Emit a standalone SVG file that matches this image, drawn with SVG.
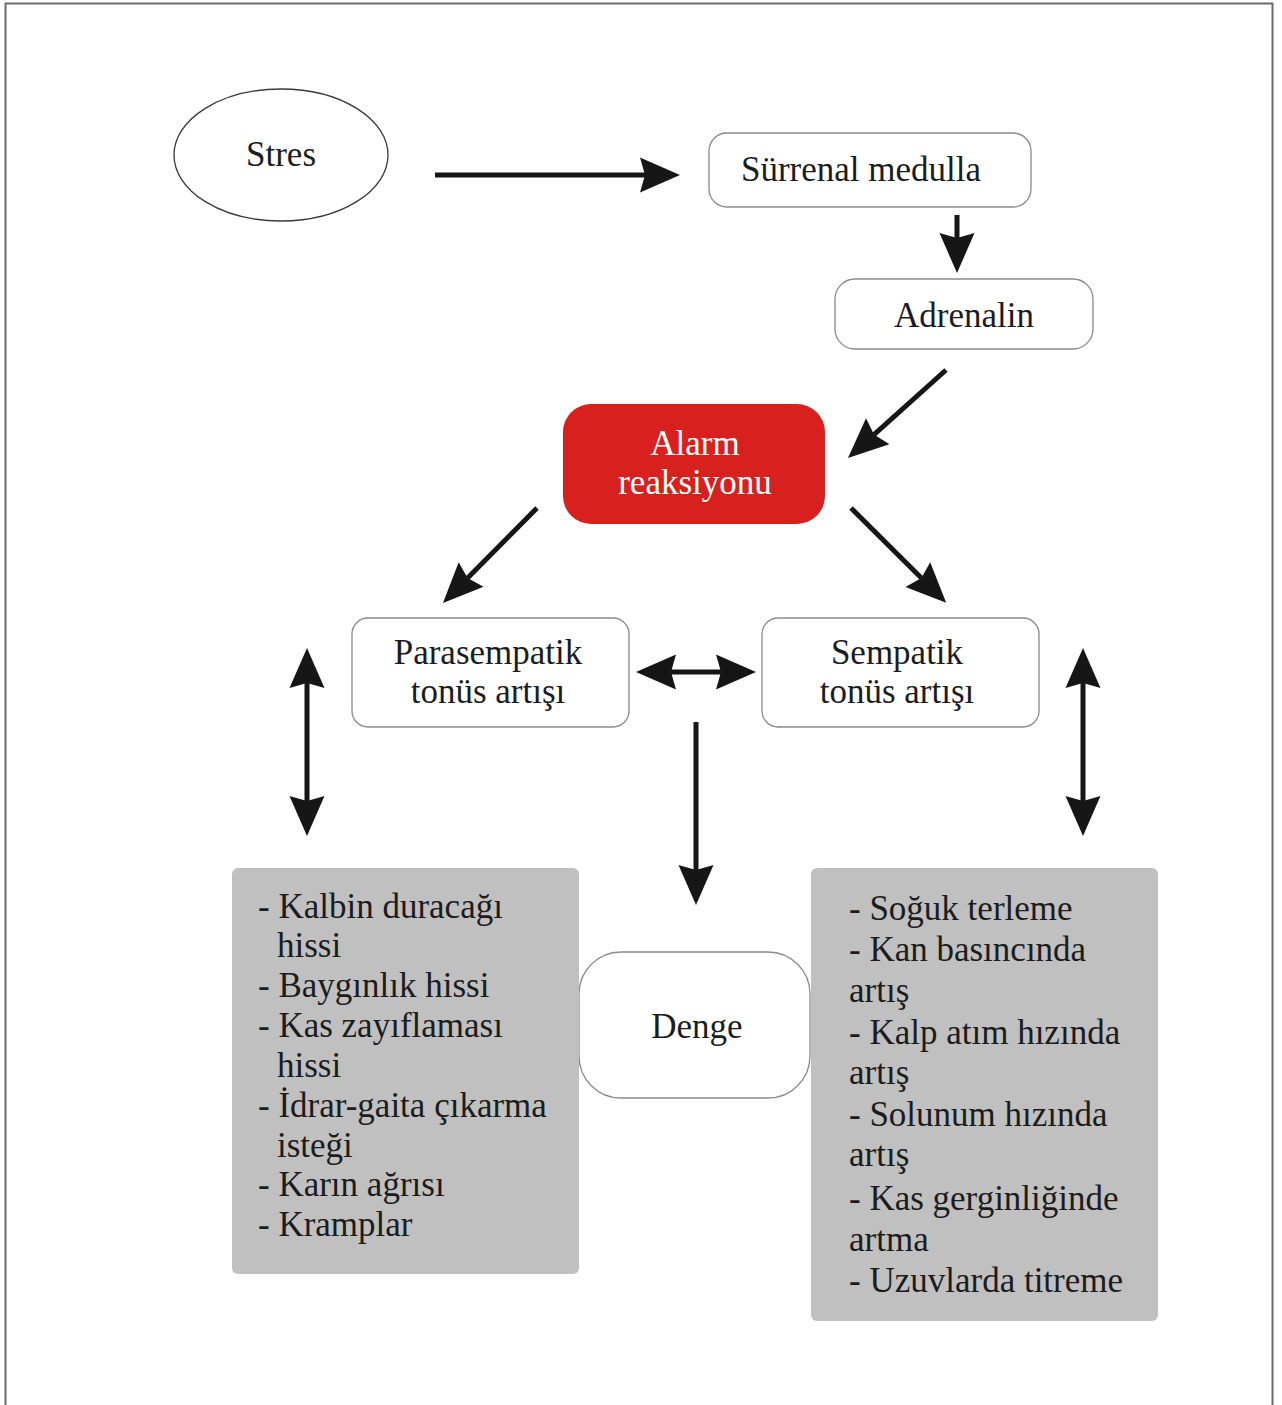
<svg xmlns="http://www.w3.org/2000/svg" width="1282" height="1405" viewBox="0 0 1282 1405">
<style>
.t{font-family:"Liberation Serif","Times New Roman",serif;font-size:35px;fill:#1c1c1c}
.c{text-anchor:middle}
.w{fill:#ffffff}
.box{fill:#ffffff;stroke:#8a8a8a;stroke-width:1.3}
.gray{fill:#c0c0c0}
.con{stroke:#161616;stroke-width:5;fill:none}
</style>
<defs>
<marker id="ah" markerUnits="userSpaceOnUse" viewBox="-6 -19 43 38" markerWidth="43" markerHeight="38" refX="0" refY="0" orient="auto-start-reverse">
<path d="M35,0 L-5,-17.5 L0,0 L-5,17.5 Z" fill="#161616"/>
</marker>
</defs>
<rect x="0" y="0" width="1282" height="1405" fill="#ffffff"/>
<rect x="5.5" y="3.5" width="1267" height="1410" fill="none" stroke="#6a6a6a" stroke-width="2"/>

<g id="connectors">
<line class="con" x1="435" y1="175" x2="645" y2="175" marker-end="url(#ah)"/>
<line class="con" x1="957" y1="215" x2="957" y2="238" marker-end="url(#ah)"/>
<line class="con" x1="946" y1="370" x2="874" y2="434.6" marker-end="url(#ah)"/>
<line class="con" x1="537" y1="508" x2="467.6" y2="578.1" marker-end="url(#ah)"/>
<line class="con" x1="851" y1="508" x2="921.4" y2="578.1" marker-end="url(#ah)"/>
<line class="con" x1="671" y1="672" x2="721" y2="672" marker-start="url(#ah)" marker-end="url(#ah)"/>
<line class="con" x1="307" y1="683" x2="307" y2="801" marker-start="url(#ah)" marker-end="url(#ah)"/>
<line class="con" x1="1083" y1="683" x2="1083" y2="801" marker-start="url(#ah)" marker-end="url(#ah)"/>
<line class="con" x1="696" y1="722" x2="696" y2="870" marker-end="url(#ah)"/>
</g>

<g id="stres">
<ellipse cx="281" cy="155" rx="107" ry="66" fill="#ffffff" stroke="#3a3a3a" stroke-width="1.3"/>
<text class="t c" x="281" y="166">Stres</text>
</g>
<g id="surrenal">
<rect class="box" x="709" y="133" width="322" height="74" rx="18"/>
<text class="t c" x="861" y="181">Sürrenal medulla</text>
</g>
<g id="adrenalin">
<rect class="box" x="835" y="279" width="258" height="70" rx="20"/>
<text class="t c" x="964" y="327">Adrenalin</text>
</g>
<g id="alarm">
<rect x="563" y="404" width="262" height="120" rx="28" fill="#d8211e"/>
<text class="t c w" x="695" y="455">Alarm</text>
<text class="t c w" x="695" y="494">reaksiyonu</text>
</g>
<g id="parasempatik">
<rect class="box" x="352" y="618" width="277" height="109" rx="16"/>
<text class="t c" x="488" y="664">Parasempatik</text>
<text class="t c" x="488" y="703">tonüs artışı</text>
</g>
<g id="sempatik">
<rect class="box" x="762" y="618" width="277" height="109" rx="16"/>
<text class="t c" x="897" y="664">Sempatik</text>
<text class="t c" x="897" y="703">tonüs artışı</text>
</g>
<g id="denge">
<rect class="box" x="579" y="952" width="231" height="146" rx="42"/>
<text class="t c" x="697" y="1038">Denge</text>
</g>
<g id="para-belirtiler">
<rect class="gray" x="232" y="868" width="347" height="406" rx="6"/>
<text class="t" x="258" y="918">- Kalbin duracağı</text>
<text class="t" x="277" y="957">hissi</text>
<text class="t" x="258" y="997">- Baygınlık hissi</text>
<text class="t" x="258" y="1037">- Kas zayıflaması</text>
<text class="t" x="277" y="1077">hissi</text>
<text class="t" x="258" y="1117">- İdrar-gaita çıkarma</text>
<text class="t" x="277" y="1157">isteği</text>
<text class="t" x="258" y="1196">- Karın ağrısı</text>
<text class="t" x="258" y="1236">- Kramplar</text>
</g>
<g id="semp-belirtiler">
<rect class="gray" x="811" y="868" width="347" height="453" rx="6"/>
<text class="t" x="849" y="920">- Soğuk terleme</text>
<text class="t" x="849" y="961">- Kan basıncında</text>
<text class="t" x="849" y="1002">artış</text>
<text class="t" x="849" y="1044">- Kalp atım hızında</text>
<text class="t" x="849" y="1084">artış</text>
<text class="t" x="849" y="1126">- Solunum hızında</text>
<text class="t" x="849" y="1166">artış</text>
<text class="t" x="849" y="1210">- Kas gerginliğinde</text>
<text class="t" x="849" y="1251">artma</text>
<text class="t" x="849" y="1292">- Uzuvlarda titreme</text>
</g>
</svg>
